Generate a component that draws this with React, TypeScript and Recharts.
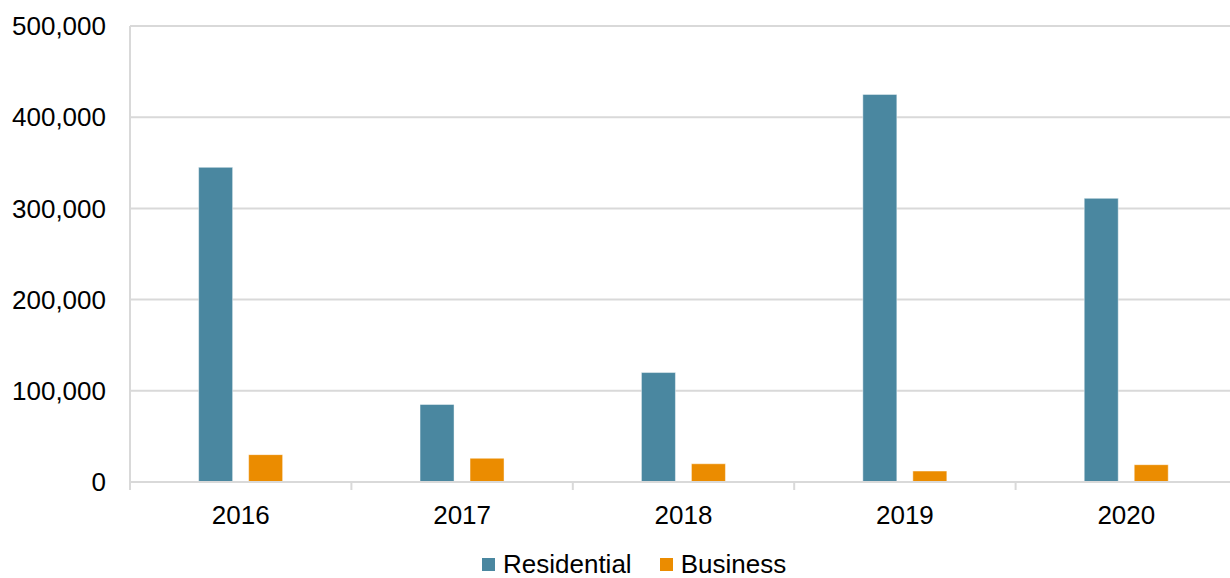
import React from "react";
import {
  BarChart,
  Bar,
  XAxis,
  YAxis,
  CartesianGrid,
  Legend,
} from "recharts";

const years = ["2016", "2017", "2018", "2019", "2020"];
const residential = [345000, 85000, 120000, 425000, 311000];
const business = [30000, 26000, 20000, 12000, 19000];
const yTicks = [0, 100000, 200000, 300000, 400000, 500000];

const seriesInfo = [
  { key: "residential", name: "Residential", color: "#4A87A0" },
  { key: "business", name: "Business", color: "#EB8C00" },
];

const data = years.map((year, i) => ({
  year,
  residential: residential[i],
  business: business[i],
}));

const font = "'Liberation Sans', Arial, sans-serif";
const gridColor = "#d9d9d9";
const halfBand = 1107 / years.length / 2;

// category label plus a small tick mark at the left edge of each band
const YearTick = (props: any) => {
  const { x, y, payload } = props;
  return (
    <g>
      <line x1={x - halfBand} x2={x - halfBand} y1={y - 24} y2={y - 16} stroke={gridColor} strokeWidth={2} />
      <text x={x} y={y} dy="0.71em" textAnchor="middle" fill="#000" fontSize={26} fontFamily={font}>
        {payload.value}
      </text>
    </g>
  );
};

const LegendBox = () => (
  <div style={{ display: "flex", alignItems: "center", fontFamily: font, fontSize: 26, color: "#000", height: 22, lineHeight: "22px" }}>
    {seriesInfo.map((s, i) => (
      <div key={s.key} style={{ display: "flex", alignItems: "center", marginRight: i === 0 ? 28 : 0 }}>
        <span style={{ width: 13, height: 13, background: s.color, display: "inline-block", marginRight: 8 }} />
        <span>{s.name}</span>
      </div>
    ))}
  </div>
);

export default function App() {
  return (
    <div style={{ position: "absolute", left: 0, top: 0, width: 1230, height: 578, overflow: "hidden", background: "#fff" }}>
      <BarChart
        width={1240}
        height={578}
        data={data}
        margin={{ top: 26, right: 3, left: 0, bottom: 24 }}
        barCategoryGap="31%"
        barGap={16}
      >
        <CartesianGrid vertical={false} stroke={gridColor} strokeWidth={2} />
        <XAxis
          dataKey="year"
          axisLine={{ stroke: gridColor, strokeWidth: 2 }}
          tickLine={false}
          tickMargin={18}
          height={50}
          tick={<YearTick />}
        />
        <YAxis
          width={130}
          domain={[0, 500000]}
          ticks={yTicks}
          axisLine={{ stroke: gridColor, strokeWidth: 2 }}
          tickLine={false}
          tickMargin={18}
          tickFormatter={(v: number) => v.toLocaleString("en-US")}
          tick={{ fill: "#000", fontSize: 26, fontFamily: font }}
        />
        <Legend
          content={<LegendBox />}
          wrapperStyle={{ position: "absolute", left: 482, top: 553, width: "auto" }}
        />
        {seriesInfo.map((s) => (
          <Bar
            key={s.key}
            dataKey={s.key}
            name={s.name}
            fill={s.color}
            stroke="#ffffff"
            strokeOpacity={0.45}
            isAnimationActive={false}
          />
        ))}
      </BarChart>
    </div>
  );
}
